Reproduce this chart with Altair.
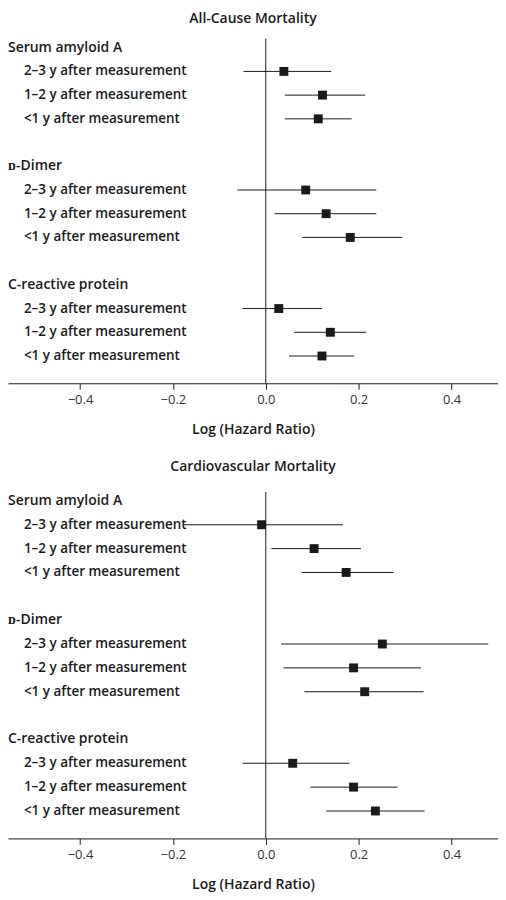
import altair as alt
import pandas as pd

groups = ["Serum amyloid A", "ᴅ-Dimer", "C-reactive protein"]
periods = ["2–3 y after measurement", "1–2 y after measurement", "<1 y after measurement"]
panel_titles = ["All-Cause Mortality", "Cardiovascular Mortality"]

# Log hazard ratio estimates and 95% CI, ordered group by group, period by period
allcause_est = [0.039, 0.122, 0.113, 0.086, 0.130, 0.182, 0.028, 0.139, 0.121]
allcause_lo = [-0.048, 0.041, 0.041, -0.061, 0.019, 0.079, -0.050, 0.061, 0.050]
allcause_hi = [0.141, 0.214, 0.185, 0.238, 0.238, 0.294, 0.121, 0.216, 0.190]

cardio_est = [-0.009, 0.104, 0.173, 0.251, 0.189, 0.213, 0.058, 0.189, 0.236]
cardio_lo = [-0.177, 0.012, 0.077, 0.033, 0.038, 0.083, -0.050, 0.096, 0.130]
cardio_hi = [0.166, 0.205, 0.275, 0.479, 0.334, 0.340, 0.180, 0.284, 0.342]

x_ticks = [-0.4, -0.2, 0.0, 0.2, 0.4]

INK = "#1a1a1a"
FONT = "Open Sans"

xscale = alt.Scale(domain=[-0.555, 0.5], nice=False, zero=False)
yscale = alt.Scale(domain=[-0.38, 14.15], nice=False, zero=False, reverse=True)
xaxis = alt.Axis(
    values=x_ticks, format=".1f", title="Log (Hazard Ratio)", grid=False,
    domainColor=INK, tickColor=INK, tickSize=6, labelColor="#333333",
    labelFont=FONT, labelFontSize=13, labelPadding=4,
    titleFont=FONT, titleFontSize=14, titleFontWeight=600, titleColor=INK,
    titlePadding=16,
)


def make_panel(title, est, lo, hi, offset, height):
    headers = []
    rows = []
    k = 0
    for gi, g in enumerate(groups):
        headers.append({"label": g, "slot": gi * 5})
        for pi, p in enumerate(periods):
            rows.append({"label": p, "slot": gi * 5 + 1 + pi,
                         "est": est[k], "lo": lo[k], "hi": hi[k]})
            k += 1
    hdf = pd.DataFrame(headers)
    rdf = pd.DataFrame(rows)

    zero = alt.Chart(pd.DataFrame({"z": [0.0]})).mark_rule(
        color=INK, strokeWidth=1
    ).encode(x=alt.X("z:Q", scale=xscale, axis=xaxis))

    htext = alt.Chart(hdf).mark_text(
        align="left", baseline="middle", font=FONT, fontSize=14,
        fontWeight=600, color=INK
    ).encode(
        x=alt.value(0),
        y=alt.Y("slot:Q", scale=yscale, axis=None),
        text="label:N",
    )
    rtext = alt.Chart(rdf).mark_text(
        align="left", baseline="middle", font=FONT, fontSize=13.5,
        fontWeight=600, color=INK
    ).encode(
        x=alt.value(16),
        y=alt.Y("slot:Q", scale=yscale, axis=None),
        text="label:N",
    )
    ci = alt.Chart(rdf).mark_rule(color=INK, strokeWidth=1).encode(
        x=alt.X("lo:Q", scale=xscale, axis=xaxis),
        x2="hi:Q",
        y=alt.Y("slot:Q", scale=yscale, axis=None),
    )
    pts = alt.Chart(rdf).mark_square(size=80, color=INK, opacity=1).encode(
        x=alt.X("est:Q", scale=xscale, axis=xaxis),
        y=alt.Y("slot:Q", scale=yscale, axis=None),
    )
    return alt.layer(zero, htext, rtext, ci, pts).properties(
        width=492, height=height,
        title=alt.TitleParams(title, font=FONT, fontSize=14, fontWeight=600,
                              color=INK, anchor="middle", offset=offset),
    )


chart = alt.vconcat(
    make_panel(panel_titles[0], allcause_est, allcause_lo, allcause_hi, 12, 346),
    make_panel(panel_titles[1], cardio_est, cardio_lo, cardio_hi, 17, 348),
    spacing=24,
).properties(
    padding={"left": 0, "top": 2, "right": 0, "bottom": 0}
).configure_view(stroke=None)

chart.save("out.html", embed_options={"renderer": "svg", "actions": False})
